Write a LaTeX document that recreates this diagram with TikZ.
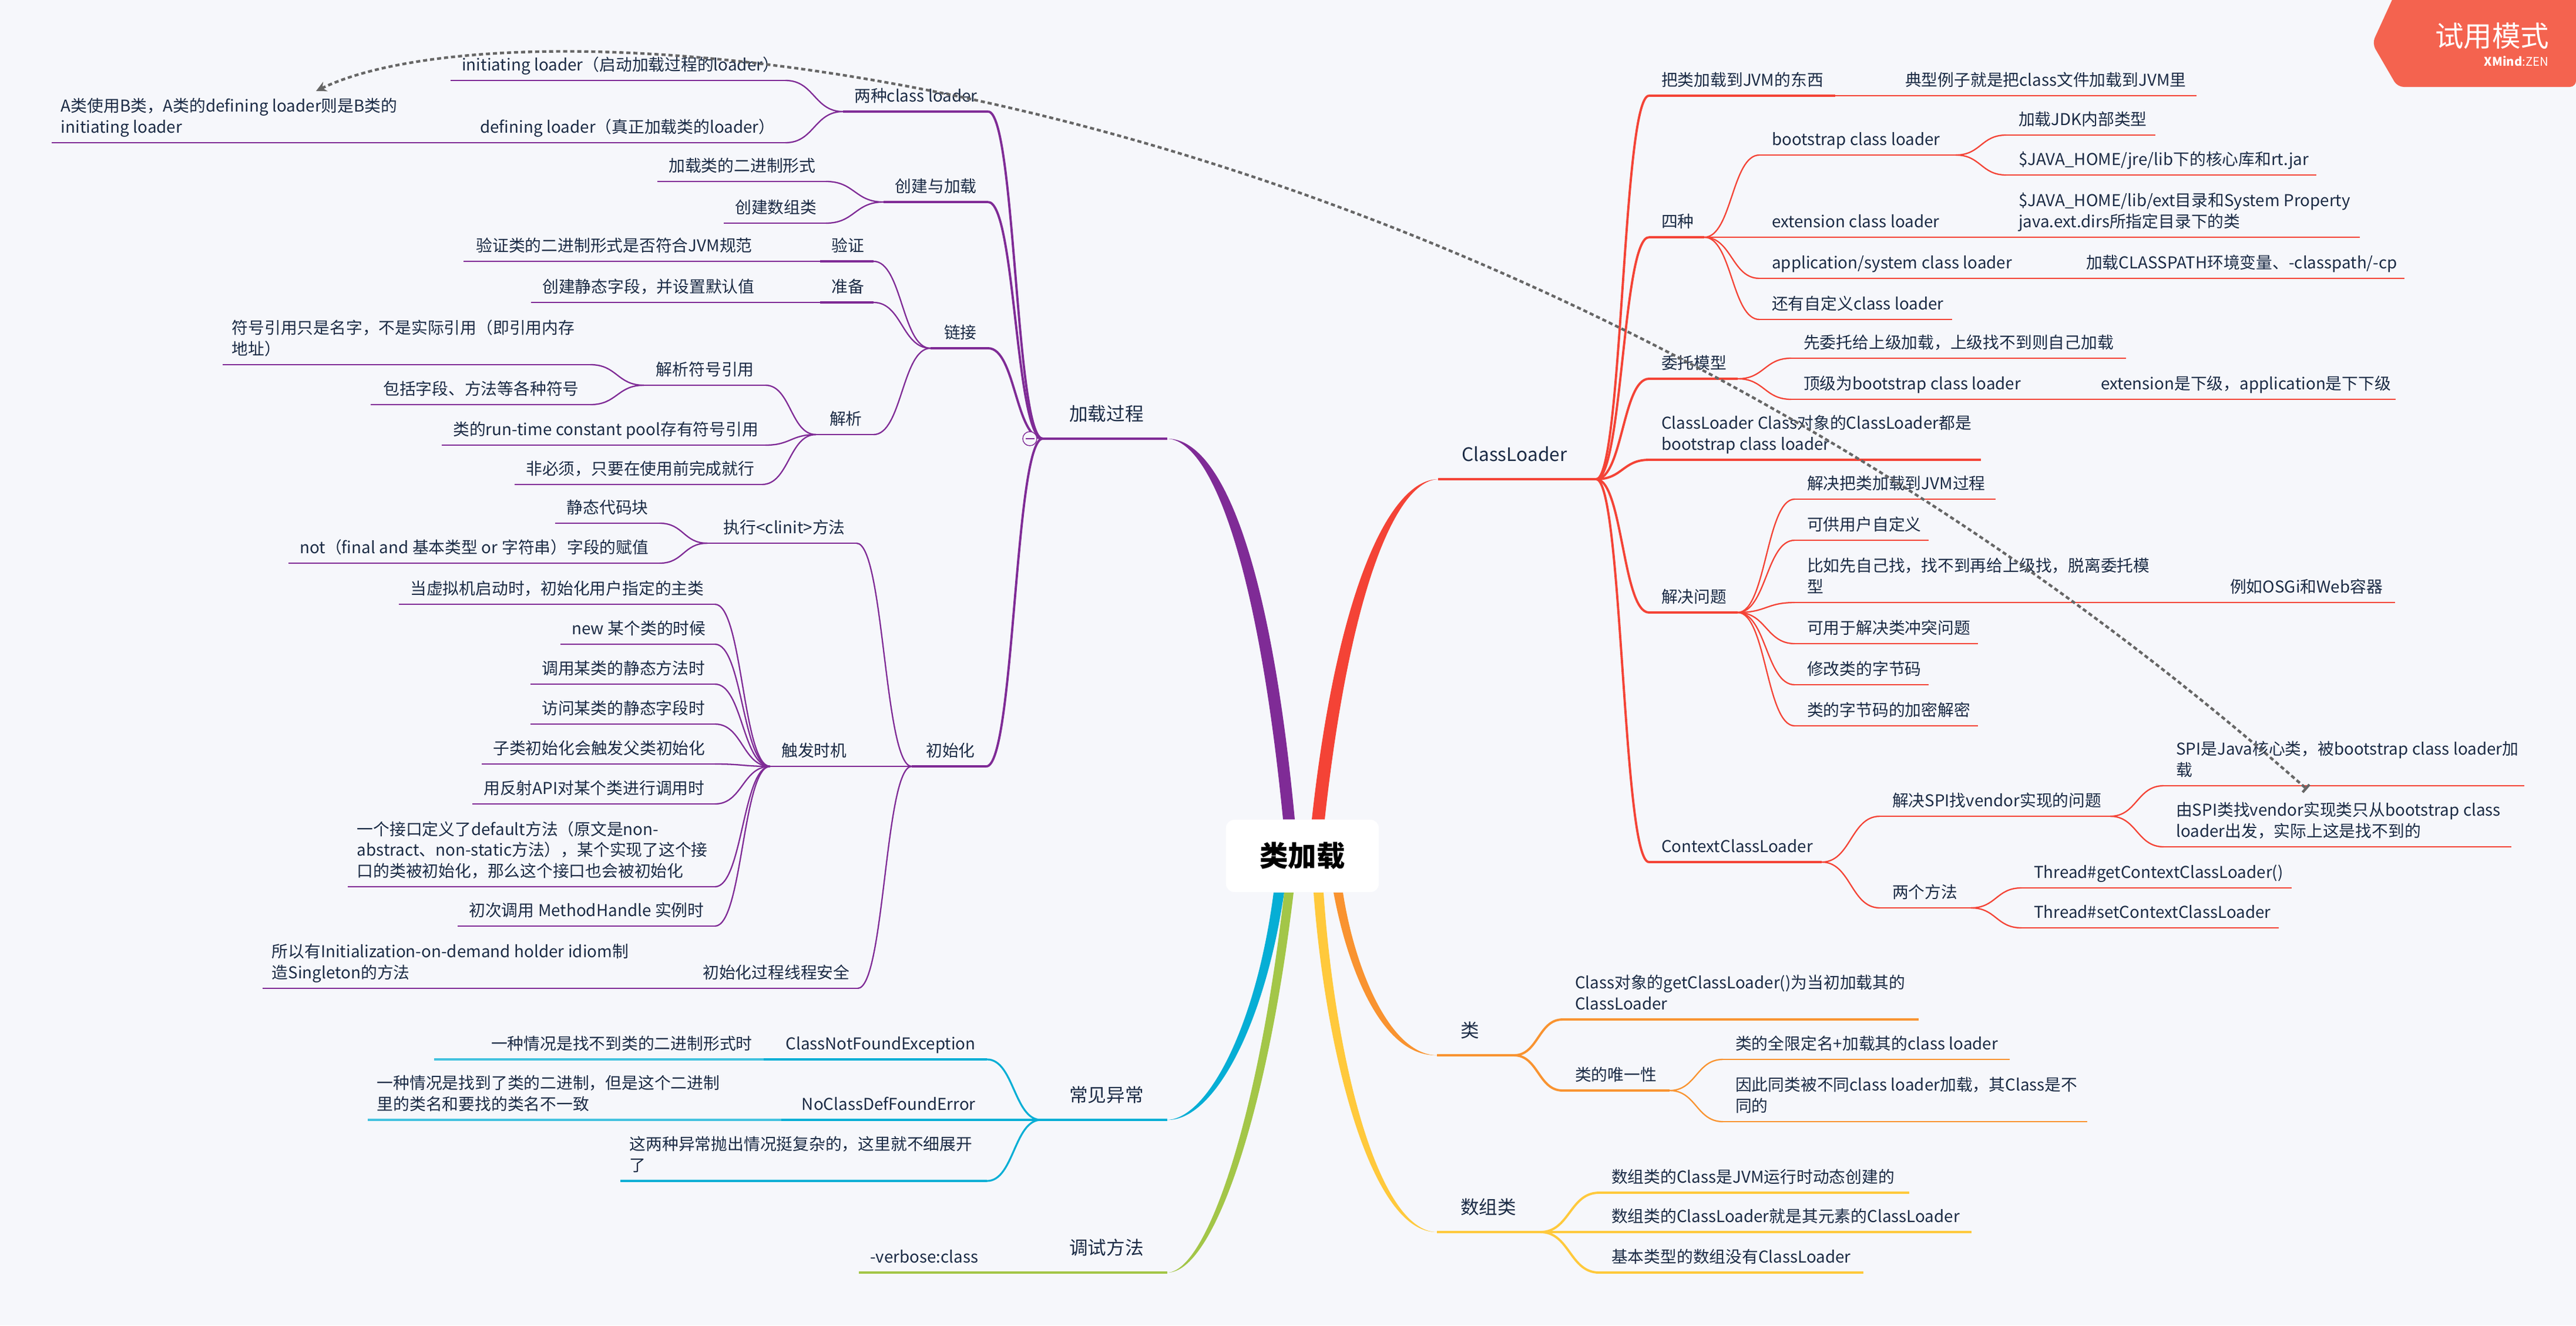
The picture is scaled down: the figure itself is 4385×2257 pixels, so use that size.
\documentclass[tikz,border=0pt]{standalone}
\usepackage{fontspec}
\usepackage{tikz}
\usetikzlibrary{calc,arrows.meta}
\setmainfont{Noto Sans CJK SC}

\definecolor{cBg}{HTML}{F6F7FB}
\definecolor{cInk}{HTML}{1B2B45}
\definecolor{cPurple}{HTML}{7F2B96}
\definecolor{cRed}{HTML}{F44336}
\definecolor{cOrange}{HTML}{F99330}
\definecolor{cYellow}{HTML}{FFC93C}
\definecolor{cBlue}{HTML}{06AED5}
\definecolor{cGreen}{HTML}{A3C648}
\definecolor{cBadge}{HTML}{F4634F}
\definecolor{cRel}{HTML}{666666}

\tikzset{
    topic/.style={anchor=south west, inner ysep=0pt, outer sep=0pt, text=cInk,
        font=\fontsize{7.9}{10.1}\selectfont,
        execute at begin node={\hyphenpenalty=10000 \exhyphenpenalty=10000 \spaceskip=.24em\relax},
        execute at end node={\rule[-4.7pt]{0pt}{0pt}}},
    lf/.style={topic, inner xsep=5.5pt, align=flush right,
        /utils/exec={\pgfmathsetlengthmacro\boxw{#1*0.01cm-11pt}}, text width=\boxw},
    lw/.style={topic, inner xsep=4.5pt, align=flush left,
        /utils/exec={\pgfmathsetlengthmacro\boxw{#1*0.01cm-9pt}}, text width=\boxw},
    rt/.style={topic, inner xsep=6pt, align=flush left,
        /utils/exec={\pgfmathsetlengthmacro\boxw{#1*0.01cm-12pt}}, text width=\boxw},
    mainl/.style={topic, inner xsep=11.4pt, align=flush right,
        font=\fontsize{9}{11}\selectfont, execute at end node={\rule[-8.8pt]{0pt}{0pt}},
        /utils/exec={\pgfmathsetlengthmacro\boxw{#1*0.01cm-22.8pt}}, text width=\boxw},
    mainr/.style={mainl=#1, align=flush left},
    lineA/.style={line width=1.1pt},
    lineB/.style={line width=0.65pt},
    branch/.style={to path={.. controls ($(\tikztostart)!.5!(\tikztotarget|-\tikztostart)$)
        and ($(\tikztotarget)!.5!(\tikztostart|-\tikztotarget)$) .. (\tikztotarget)}},
    rootbox/.style={fill=white, rounded corners=4pt, minimum width=2.6cm, minimum height=1.23cm,
        inner sep=0pt, font=\fontsize{13.8}{16}\selectfont\bfseries, text=black},
    foldmark/.style={circle, draw=cPurple, fill=cBg, line width=0.4pt, minimum size=0.24cm, inner sep=0pt},
    relation/.style={cRel, line width=1.25pt, dash pattern=on 2pt off 1.4pt}
}

\begin{document}
\begin{tikzpicture}[x=0.01cm, y=-0.01cm]
    \useasboundingbox (0,0) rectangle (4385,2257);
    \fill[cBg] (0,0) rectangle (4385,2257);

    % Root
    \node[rootbox] (root) at (2217,1457.5) {类加载};

    % Purple side
    \node[mainl=212] (load) at (1775,747) {加载过程};
    \node[lf=247] (two) at (1435,190) {两种class~loader};
    \node[lf=570] (initiating) at (767,137) {initiating~loader（启动加载过程的loader）};
    \node[lf=539] (defining) at (798,243) {defining~loader（真正加载类的loader）};
    \node[lw=692] (aclass) at (88,243) {A类使用B类，A类的defining~loader则是B类的\\initiating~loader};
    \node[lf=178] (create) at (1504,344) {创建与加载};
    \node[lf=287] (binary) at (1119,309) {加载类的二进制形式};
    \node[lf=174] (array) at (1232,380) {创建数组类};
    \node[lf=98] (link) at (1584,593) {链接};
    \node[lf=91] (verify) at (1396,445) {验证};
    \node[lf=91] (prepare) at (1396,515) {准备};
    \node[lf=511] (vclass) at (789,445) {验证类的二进制形式是否符合JVM规范};
    \node[lf=396] (pclass) at (904,515) {创建静态字段，并设置默认值};
    \node[lf=98] (resolve) at (1389,740) {解析};
    \node[lf=207] (symref) at (1096,656) {解析符号引用};
    \node[lw=626] (symtxt) at (379,621) {符号引用只是名字，不是实际引用（即引用内存\\地址）};
    \node[lf=374] (fields) at (631,689) {包括字段、方法等各种符号};
    \node[lf=551] (pool) at (752,758) {类的run-time~constant~pool存有符号引用};
    \node[lf=421] (optional) at (876,825) {非必须，只要在使用前完成就行};
    \node[lf=127] (init) at (1552,1305) {初始化};
    \node[lf=254] (clinit) at (1204,925) {执行<clinit>方法};
    \node[lf=178] (static) at (945,891) {静态代码块};
    \node[lf=632] (notfinal) at (491,959) {not（final~and~基本类型~or~字符串）字段的赋值};
    \node[lf=147] (trigger) at (1311,1305) {触发时机};
    \node[lf=538] (tA) at (679,1029) {当虚拟机启动时，初始化用户指定的主类};
    \node[lf=263] (tB) at (954,1097) {new~某个类的时候};
    \node[lf=314] (tC) at (903,1165) {调用某类的静态方法时};
    \node[lf=314] (tD) at (903,1233) {访问某类的静态字段时};
    \node[lf=397] (tE) at (820,1301) {子类初始化会触发父类初始化};
    \node[lf=413] (tF) at (804,1369) {用反射API对某个类进行调用时};
    \node[lw=625] (tG) at (592,1510) {一个接口定义了default方法（原文是non-\\abstract、non-static方法），某个实现了这个接\\口的类被初始化，那么这个接口也会被初始化};
    \node[lf=438] (tH) at (779,1577) {初次调用~MethodHandle~实例时};
    \node[lf=283] (safe) at (1177,1683) {初始化过程线程安全};
    \node[lw=713] (holder) at (447,1683) {所以有Initialization-on-demand~holder~idiom制\\造Singleton的方法};

    % Blue and green side
    \node[mainl=215] (exc) at (1772,1907) {常见异常};
    \node[lf=362] (cnf) at (1318,1804) {ClassNotFoundException};
    \node[lf=561] (cnftxt) at (739,1804) {一种情况是找不到类的二进制形式时};
    \node[lf=335] (ncd) at (1345,1907) {NoClassDefFoundError};
    \node[lw=704] (ncdtxt) at (626,1907) {一种情况是找到了类的二进制，但是这个二进制\\里的类名和要找的类名不一致};
    \node[lw=624] (both) at (1056,2011) {这两种异常抛出情况挺复杂的，这里就不细展开\\了};
    \node[mainl=297] (debug) at (1690,2167) {调试方法};
    \node[lf=214] (verbose) at (1462,2167) {-verbose:class};

    % Red side
    \node[mainr=269] (cl) at (2448,816) {ClassLoader};
    \node[rt=317] (what) at (2807,163) {把类加载到JVM的东西};
    \node[rt=517] (whatx) at (3222,163) {典型例子就是把class文件加载到JVM里};
    \node[rt=94] (four) at (2807,404) {四种};
    \node[rt=334] (boot) at (2995,264) {bootstrap~class~loader};
    \node[rt=254] (jdk) at (3415,230) {加载JDK内部类型};
    \node[rt=528] (core) at (3415,298) {\$JAVA\_HOME/jre/lib下的核心库和rt.jar};
    \node[rt=334] (ext) at (2995,404) {extension~class~loader};
    \node[rt=602] (extdir) at (3415,404) {\$JAVA\_HOME/lib/ext目录和System~Property\\java.ext.dirs所指定目录下的类};
    \node[rt=450] (app) at (2995,474) {application/system~class~loader};
    \node[rt=563] (cp) at (3530,474) {加载CLASSPATH环境变量、-classpath/-cp};
    \node[rt=328] (own) at (2995,544) {还有自定义class~loader};
    \node[rt=151] (deleg) at (2807,645) {委托模型};
    \node[rt=570] (parentfirst) at (3049,610) {先委托给上级加载，上级找不到则自己加载};
    \node[rt=403] (topb) at (3049,680) {顶级为bootstrap~class~loader};
    \node[rt=523] (topx) at (3555,680) {extension是下级，application是下下级};
    \node[rt=565] (clobj) at (2807,783) {ClassLoader~Class对象的ClassLoader都是\\bootstrap~class~loader};
    \node[rt=151] (solve) at (2807,1043) {解决问题};
    \node[rt=342] (sA) at (3055,850) {解决把类加载到JVM过程};
    \node[rt=228] (sB) at (3055,920) {可供用户自定义};
    \node[rt=625] (sC) at (3055,1026) {比如先自己找，找不到再给上级找，脱离委托模\\型};
    \node[rt=302] (sCx) at (3775,1026) {例如OSGi和Web容器};
    \node[rt=312] (sD) at (3055,1096) {可用于解决类冲突问题};
    \node[rt=228] (sE) at (3055,1166) {修改类的字节码};
    \node[rt=312] (sF) at (3055,1236) {类的字节码的加密解密};
    \node[rt=294] (ctx) at (2807,1468) {ContextClassLoader};
    \node[rt=392] (spi) at (3200,1390) {解决SPI找vendor实现的问题};
    \node[rt=614] (spiA) at (3683,1338) {SPI是Java核心类，被bootstrap~class~loader加\\载};
    \node[rt=592] (spiB) at (3683,1442) {由SPI类找vendor实现类只从bootstrap~class\\loader出发，实际上这是找不到的};
    \node[rt=155] (meth) at (3200,1546) {两个方法};
    \node[rt=460] (getm) at (3441,1512) {Thread\#getContextClassLoader()};
    \node[rt=438] (setm) at (3441,1580) {Thread\#setContextClassLoader};

    % Orange and yellow side
    \node[mainr=131] (cls) at (2446,1797) {类};
    \node[rt=606] (clsget) at (2660,1736) {Class对象的getClassLoader()为当初加载其的\\ClassLoader};
    \node[rt=182] (uniq) at (2660,1857) {类的唯一性};
    \node[rt=488] (qA) at (2933,1804) {类的全限定名+加载其的class~loader};
    \node[rt=620] (qB) at (2933,1910) {因此同类被不同class~loader加载，其Class是不\\同的};
    \node[mainr=176] (arr) at (2446,2098) {数组类};
    \node[rt=528] (aA) at (2722,2031) {数组类的Class是JVM运行时动态创建的};
    \node[rt=634] (aB) at (2722,2098) {数组类的ClassLoader就是其元素的ClassLoader};
    \node[rt=450] (aC) at (2722,2167) {基本类型的数组没有ClassLoader};

    % Trunks from the root
    \fill[cPurple] ($(root.north)+(-33,0)$) .. controls (2140,950) and (2060,750) .. (load.south east)
        .. controls (2078,747) and (2162,950) .. ($(root.north)+(-13,0)$) -- cycle;
    \fill[cRed] ($(root.north)+(16,0)$) .. controls (2277,996) and (2368,816) .. (cl.south west)
        .. controls (2378,819) and (2299,996) .. ($(root.north)+(38,0)$) -- cycle;
    \fill[cOrange] ($(root.south)+(53,0)$) .. controls (2294,1650) and (2352,1799) .. (cls.south west)
        .. controls (2366,1796) and (2306,1650) .. ($(root.south)+(69,0)$) -- cycle;
    \fill[cYellow] ($(root.south)+(19,0)$) .. controls (2257,1800) and (2335,2100) .. (arr.south west)
        .. controls (2345,2097) and (2272,1800) .. ($(root.south)+(36,0)$) -- cycle;
    \fill[cBlue] ($(root.south)+(-49,0)$) .. controls (2138,1750) and (2055,1905) .. (exc.south east)
        .. controls (2065,1909) and (2152,1750) .. ($(root.south)+(-31,0)$) -- cycle;
    \fill[cGreen] ($(root.south)+(-31,0)$) .. controls (2143,1900) and (2055,2165) .. (debug.south east)
        .. controls (2065,2168) and (2157,1900) .. ($(root.south)+(-15,0)$) -- cycle;

    % Underlines
    \foreach \n in {load,two,create,link,verify,prepare,init}
        \draw[cPurple, lineA] (\n.south west) -- (\n.south east);
    \foreach \n in {initiating,defining,aclass,binary,array,vclass,pclass,resolve,symref,symtxt,fields,pool,optional,clinit,static,notfinal,trigger,tA,tB,tC,tD,tE,tF,tG,tH,safe,holder}
        \draw[cPurple, lineB] (\n.south west) -- (\n.south east);
    \foreach \n in {cl,what,four,deleg,clobj,solve,ctx}
        \draw[cRed, lineA] (\n.south west) -- (\n.south east);
    \foreach \n in {whatx,boot,jdk,core,ext,extdir,app,cp,own,parentfirst,topb,topx,sA,sB,sC,sCx,sD,sE,sF,spi,spiA,spiB,meth,getm,setm}
        \draw[cRed, lineB] (\n.south west) -- (\n.south east);
    \foreach \n in {cls,clsget,uniq}
        \draw[cOrange, lineA] (\n.south west) -- (\n.south east);
    \foreach \n in {qA,qB}
        \draw[cOrange, lineB] (\n.south west) -- (\n.south east);
    \foreach \n in {arr,aA,aB,aC}
        \draw[cYellow, lineA] (\n.south west) -- (\n.south east);
    \foreach \n in {exc,cnf,ncd,both}
        \draw[cBlue, line width=1.4pt] (\n.south west) -- (\n.south east);
    \foreach \n in {cnftxt,ncdtxt}
        \draw[cBlue!75, line width=0.9pt] (\n.south west) -- (\n.south east);
    \foreach \n in {debug,verbose}
        \draw[cGreen, line width=1.3pt] (\n.south west) -- (\n.south east);

    % Connectors on the left side
    \foreach \pa/\ch in {load/two,load/create,load/link,load/init}
        \draw[cPurple, lineA] (\pa.south west) to[branch] (\ch.south east);
    \foreach \pa/\ch in {two/initiating,two/defining,defining/aclass,create/binary,create/array,
        link/verify,link/prepare,link/resolve,verify/vclass,prepare/pclass,
        resolve/symref,resolve/pool,resolve/optional,symref/symtxt,symref/fields,
        init/clinit,init/trigger,init/safe,clinit/static,clinit/notfinal,
        trigger/tA,trigger/tB,trigger/tC,trigger/tD,trigger/tE,trigger/tF,trigger/tG,trigger/tH,safe/holder}
        \draw[cPurple, lineB] (\pa.south west) to[branch] (\ch.south east);
    \foreach \pa/\ch in {exc/cnf,exc/ncd,exc/both,cnf/cnftxt,ncd/ncdtxt}
        \draw[cBlue, line width=0.9pt] (\pa.south west) to[branch] (\ch.south east);
    \draw[cGreen, line width=1.3pt] (debug.south west) to[branch] (verbose.south east);

    % Connectors on the right side
    \foreach \pa/\ch in {cl/what,cl/four,cl/deleg,cl/clobj,cl/solve,cl/ctx}
        \draw[cRed, lineA] (\pa.south east) to[branch] (\ch.south west);
    \foreach \pa/\ch in {what/whatx,four/boot,four/ext,four/app,four/own,boot/jdk,boot/core,ext/extdir,app/cp,
        deleg/parentfirst,deleg/topb,topb/topx,solve/sA,solve/sB,solve/sC,solve/sD,solve/sE,solve/sF,sC/sCx,
        ctx/spi,ctx/meth,spi/spiA,spi/spiB,meth/getm,meth/setm}
        \draw[cRed, lineB] (\pa.south east) to[branch] (\ch.south west);
    \foreach \pa/\ch in {cls/clsget,cls/uniq}
        \draw[cOrange, lineA] (\pa.south east) to[branch] (\ch.south west);
    \foreach \pa/\ch in {uniq/qA,uniq/qB}
        \draw[cOrange, lineB] (\pa.south east) to[branch] (\ch.south west);
    \foreach \pa/\ch in {arr/aA,arr/aB,arr/aC}
        \draw[cYellow, lineA] (\pa.south east) to[branch] (\ch.south west);

    % Collapse mark
    \node[foldmark] (fold) at (1753,747) {};
    \draw[cPurple, line width=0.5pt] ($(fold.center)+(-7.5,0)$) -- ($(fold.center)+(7.5,0)$);

    % Dotted relation across the map
    \coordinate (relfrom) at (538,155);
    \coordinate (relto) at (3927,1344);
    \draw[relation, {Stealth[length=5pt,width=5pt]}-{Bar[width=5pt]}] (relfrom)
        .. controls (900,-20) and (2500,88) .. (relto);

    % Trial badge
    \fill[cBadge, rounded corners=3pt] (4081,-20) -- (4038,74) -- (4081,148) -- (4385,148) -- (4385,-20) -- cycle;
    \node[text=white, inner sep=0pt, font=\fontsize{13.8}{15}\selectfont] (trial) at (4242,61) {试用模式};
    \node[text=white, inner sep=0pt, anchor=east, font=\fontsize{5.8}{7}\selectfont] (brand) at (4339,104) {\textbf{XMind}:ZEN};
\end{tikzpicture}
\end{document}
